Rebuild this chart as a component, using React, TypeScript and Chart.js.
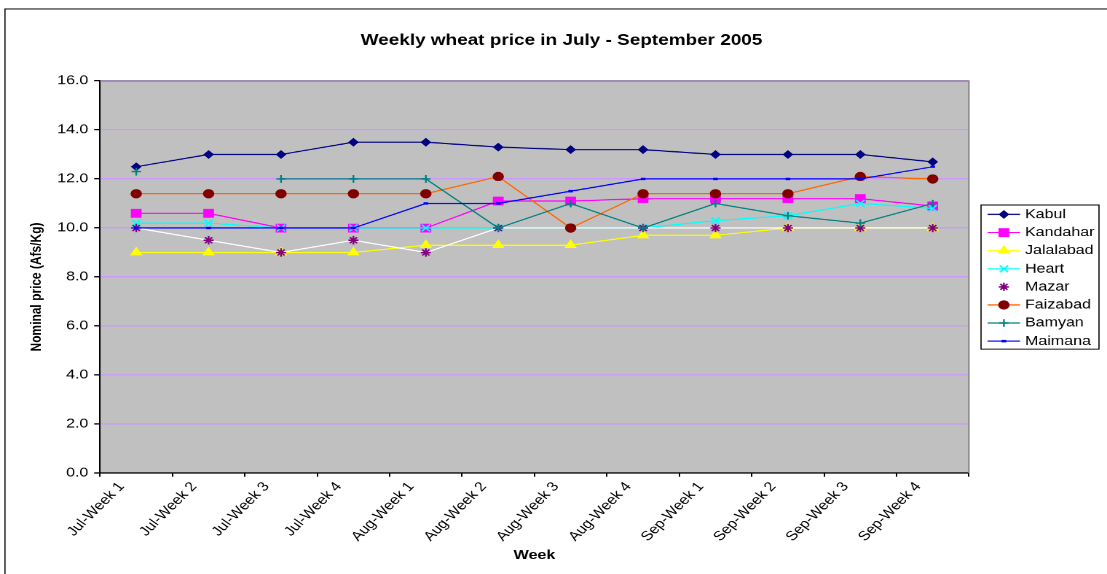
import React, { useEffect, useRef } from 'react';
import { Chart, registerables } from 'chart.js';
import { drawPoint } from 'chart.js/helpers';

Chart.register(...registerables);

// ---------- data ----------
const categories = [
  'Jul-Week 1', 'Jul-Week 2', 'Jul-Week 3', 'Jul-Week 4',
  'Aug-Week 1', 'Aug-Week 2', 'Aug-Week 3', 'Aug-Week 4',
  'Sep-Week 1', 'Sep-Week 2', 'Sep-Week 3', 'Sep-Week 4',
];
const kabul = [12.5, 13.0, 13.0, 13.5, 13.5, 13.3, 13.2, 13.2, 13.0, 13.0, 13.0, 12.7];
const kandahar = [10.6, 10.6, 10.0, 10.0, 10.0, 11.1, 11.1, 11.2, 11.2, 11.2, 11.2, 10.9];
const jalalabad = [9.0, 9.0, 9.0, 9.0, 9.3, 9.3, 9.3, 9.7, 9.7, 10.0, 10.0, 10.0];
const heart = [10.2, 10.2, 10.0, 10.0, 10.0, 10.0, 10.0, 10.0, 10.3, 10.5, 11.0, 10.8];
const mazar = [10.0, 9.5, 9.0, 9.5, 9.0, 10.0, 10.0, 10.0, 10.0, 10.0, 10.0, 10.0];
const faizabad = [11.4, 11.4, 11.4, 11.4, 11.4, 12.1, 10.0, 11.4, 11.4, 11.4, 12.1, 12.0];
const bamyan = [12.3, null, 12.0, 12.0, 12.0, 10.0, 11.0, 10.0, 11.0, 10.5, 10.2, 11.0];
const maimana = [10.0, 10.0, 10.0, 10.0, 11.0, 11.0, 11.5, 12.0, 12.0, 12.0, 12.0, 12.5];

const seriesNames = ['Kabul', 'Kandahar', 'Jalalabad', 'Heart', 'Mazar', 'Faizabad', 'Bamyan', 'Maimana'];
const seriesValues = [kabul, kandahar, jalalabad, heart, mazar, faizabad, bamyan, maimana];

const chartTitle = 'Weekly wheat price in July - September 2005';
const xTitle = 'Week';
const yTitle = 'Nominal price (Afs/Kg)';
const yMin = 0;
const yMax = 16;
const yStep = 2;

// ---------- styles ----------
type SeriesStyle = {
  line: string; fill: string; border: string; pointStyle: string; radius: number; pbw: number;
};
const styles: SeriesStyle[] = [
  { line: '#000080', fill: '#000080', border: '#000080', pointStyle: 'rectRot', radius: 3, pbw: 1 },
  { line: '#FF00FF', fill: '#FF00FF', border: '#FF00FF', pointStyle: 'rect', radius: 4.5, pbw: 1 },
  { line: '#FFFF00', fill: '#FFFF00', border: '#FFFF00', pointStyle: 'triangle', radius: 4, pbw: 1 },
  { line: '#00FFFF', fill: '#00FFFF', border: '#00FFFF', pointStyle: 'crossRot', radius: 4, pbw: 1.2 },
  { line: '#FFFFFF', fill: '#800080', border: '#800080', pointStyle: 'star', radius: 3.5, pbw: 1.2 },
  { line: '#FF6600', fill: '#800000', border: '#800000', pointStyle: 'circle', radius: 3.4, pbw: 1 },
  { line: '#008080', fill: '#008080', border: '#008080', pointStyle: 'cross', radius: 3.2, pbw: 1.2 },
  { line: '#0000FF', fill: '#0000FF', border: '#0000FF', pointStyle: 'line', radius: 1.6, pbw: 2 },
];

const FONT = '"Liberation Sans", Arial, sans-serif';
// internal drawing size, displayed stretched like the original picture
const W = 760;
const H = 480;
const OUT_W = 1107;
const OUT_H = 574;

const AREA = { left: 68.65, right: 665.2, top: 67.7, bottom: 395.6 };

const decor = {
  id: 'decor',
  beforeDraw(chart: any) {
    const { ctx, chartArea: a } = chart;
    ctx.save();
    ctx.fillStyle = '#C0C0C0';
    ctx.fillRect(a.left, a.top, a.right - a.left, a.bottom - a.top);
    ctx.restore();
  },
  afterDraw(chart: any) {
    const { ctx, chartArea: a } = chart;
    ctx.save();
    // plot area border (top/right)
    ctx.strokeStyle = '#808080';
    ctx.lineWidth = 1;
    ctx.beginPath();
    ctx.moveTo(a.left, a.top);
    ctx.lineTo(a.right, a.top);
    ctx.lineTo(a.right, a.bottom);
    ctx.stroke();

    // outer chart border
    ctx.strokeStyle = '#000';
    ctx.lineWidth = 0.8;
    ctx.beginPath();
    ctx.moveTo(3.4, H + 5);
    ctx.lineTo(3.4, 7.5);
    ctx.lineTo(W + 5, 7.5);
    ctx.stroke();

    // title
    ctx.fillStyle = '#000';
    ctx.font = `bold 13px ${FONT}`;
    ctx.textAlign = 'center';
    ctx.textBaseline = 'alphabetic';
    ctx.fillText(chartTitle, 385.5, 37.6);

    // x title
    ctx.font = `bold 11px ${FONT}`;
    ctx.fillText(xTitle, (a.left + a.right) / 2, 467.5);

    // y title
    ctx.save();
    ctx.translate(25.2, 240);
    ctx.rotate(-Math.PI / 2);
    ctx.font = `bold 10px ${FONT}`;
    ctx.textBaseline = 'middle';
    ctx.fillText(yTitle, 0, 0);
    ctx.restore();

    // legend
    const lx0 = 673.5, lx1 = 754.5, ly0 = 171.4, ly1 = 291.9;
    ctx.fillStyle = '#FFFFFF';
    ctx.fillRect(lx0, ly0, lx1 - lx0, ly1 - ly0);
    ctx.strokeStyle = '#000';
    ctx.lineWidth = 0.8;
    ctx.strokeRect(lx0, ly0, lx1 - lx0, ly1 - ly0);
    const firstY = 179.3;
    const stepY = 15.14;
    seriesNames.forEach((name, i) => {
      const y = firstY + i * stepY;
      const st = styles[i];
      ctx.strokeStyle = st.line;
      ctx.lineWidth = 1;
      ctx.beginPath();
      ctx.moveTo(678, y);
      ctx.lineTo(700.3, y);
      ctx.stroke();
      ctx.fillStyle = st.fill;
      ctx.strokeStyle = st.border;
      ctx.lineWidth = st.pbw;
      drawPoint(ctx, { pointStyle: st.pointStyle, radius: st.radius, borderWidth: st.pbw, rotation: 0 } as any, 689.2, y);
      ctx.fillStyle = '#000';
      ctx.font = `11px ${FONT}`;
      ctx.textAlign = 'left';
      ctx.textBaseline = 'middle';
      ctx.fillText(name, 703.7, y);
    });
    ctx.restore();
  },
};

export default function App() {
  const ref = useRef<HTMLCanvasElement | null>(null);

  useEffect(() => {
    const canvas = ref.current;
    if (!canvas) return;
    const n = seriesNames.length;
    const chart = new Chart(canvas, {
      type: 'line',
      data: {
        labels: categories,
        datasets: seriesNames.map((name, i) => ({
          label: name,
          data: seriesValues[i],
          borderColor: styles[i].line,
          backgroundColor: styles[i].fill,
          borderWidth: 1,
          pointStyle: styles[i].pointStyle as any,
          pointRadius: styles[i].radius,
          pointHoverRadius: styles[i].radius,
          pointBackgroundColor: styles[i].fill,
          pointBorderColor: styles[i].border,
          pointBorderWidth: styles[i].pbw,
          tension: 0,
          spanGaps: false,
          fill: false,
          order: n - 1 - i,
        })),
      },
      options: {
        animation: false,
        responsive: false,
        maintainAspectRatio: false,
        devicePixelRatio: 2,
        events: [],
        layout: {
          padding: { left: 0, top: AREA.top, right: W - AREA.right, bottom: 0 },
        },
        plugins: {
          legend: { display: false },
          title: { display: false },
          tooltip: { enabled: false },
        },
        scales: {
          x: {
            type: 'category',
            offset: true,
            grid: {
              display: true,
              offset: true,
              drawOnChartArea: false,
              drawTicks: true,
              tickLength: 3,
              tickColor: '#000',
              color: '#000',
            },
            border: { display: true, color: '#000', width: 1 },
            ticks: {
              autoSkip: false,
              minRotation: 50,
              maxRotation: 50,
              padding: 2,
              labelOffset: -10,
              color: '#000',
              font: { family: FONT, size: 11 },
            },
            afterFit: (scale: any) => {
              scale.height = H - AREA.bottom;
            },
          },
          y: {
            min: yMin,
            max: yMax,
            grid: {
              color: '#CC99FF',
              lineWidth: 1,
              drawTicks: true,
              tickLength: 4,
              tickColor: '#000',
            },
            border: { display: true, color: '#000', width: 1 },
            ticks: {
              stepSize: yStep,
              padding: 4,
              color: '#000',
              font: { family: FONT, size: 11 },
              callback: (v: any) => Number(v).toFixed(1),
            },
            afterFit: (scale: any) => {
              scale.width = AREA.left;
            },
          },
        },
      },
      plugins: [decor],
    });
    return () => chart.destroy();
  }, []);

  return (
    <div style={{ position: 'absolute', left: 0, top: 0, width: OUT_W, height: OUT_H, background: '#fff' }}>
      <canvas
        ref={ref}
        width={W}
        height={H}
        style={{ display: 'block', width: `${OUT_W}px`, height: `${OUT_H}px` }}
      />
    </div>
  );
}
